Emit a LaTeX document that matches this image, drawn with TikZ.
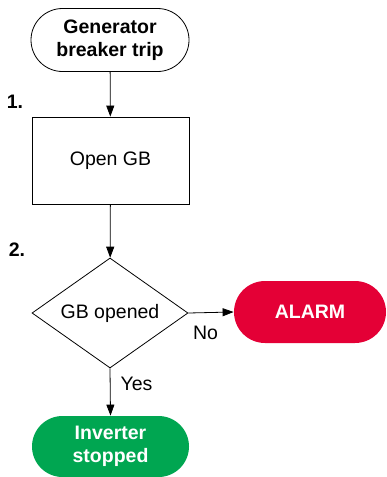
\documentclass[tikz,border=0pt]{standalone}
\usepackage{fontspec}
\setmainfont{Liberation Sans}
\usetikzlibrary{shapes.geometric,shapes.misc,arrows.meta}
\definecolor{alarmred}{RGB}{228,0,54}
\definecolor{okgreen}{RGB}{0,166,81}
\begin{document}
\begin{tikzpicture}[x=1pt,y=-1pt,
  every node/.style={font=\fontsize{19.5}{22.5}\selectfont, inner sep=0pt},
  term/.style={rounded rectangle, draw, line width=0.8pt, minimum width=158pt, minimum height=63pt, align=center, font=\fontsize{19.5}{22.5}\selectfont\bfseries},
  colterm/.style={term, draw=none, text=white},
  procbox/.style={rectangle, draw, line width=0.8pt, minimum width=157pt, minimum height=87pt},
  decision/.style={diamond, draw, line width=0.8pt, minimum width=156pt, minimum height=110pt, aspect=1.42},
  flow/.style={-{Triangle[length=11pt,width=8pt]}, line width=0.8pt},
  steplabel/.style={font=\fontsize{19.5}{22.5}\selectfont\bfseries}
]
\useasboundingbox (0,0) rectangle (386,477);
\node[term] (start) at (110,40) {Generator\\breaker trip};
\node[procbox] (open) at (110.5,160.5) {Open GB};
\node[decision] (dec) at (110,313) {GB opened};
\node[colterm, fill=alarmred, minimum width=152pt, minimum height=62pt] (alarm) at (310,312) {ALARM};
\node[colterm, fill=okgreen, minimum width=157pt, minimum height=61pt] (inv) at (110.5,446.5) {Inverter\\stopped};
\node[steplabel] (s1) at (15,102) {1.};
\node[steplabel] (s2) at (17,250) {2.};
\draw[flow] (start) -- (open);
\draw[flow] (open) -- (dec);
\draw[flow] (dec.east) -- (alarm.west) node[pos=0.38, below=13pt] (no) {No};
\draw[flow] (dec.south) -- (inv.north) node[pos=0.32, right=10pt] (yes) {Yes};
\end{tikzpicture}
\end{document}
